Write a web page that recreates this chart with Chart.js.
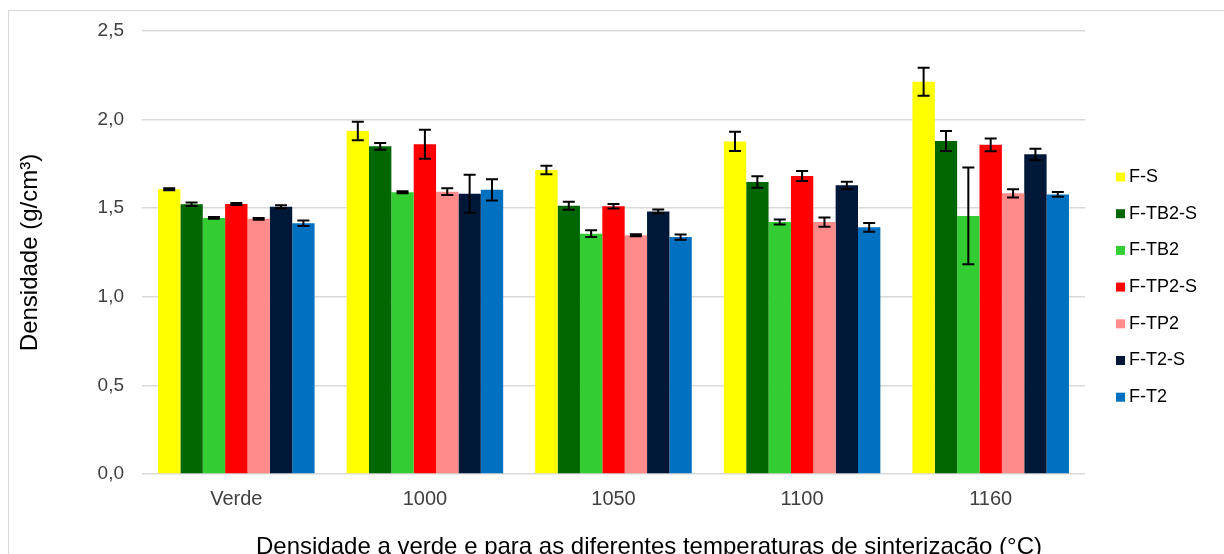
<!DOCTYPE html>
<html>
<head>
<meta charset="utf-8">
<script src="https://cdn.jsdelivr.net/npm/chart.js@4.4.0/dist/chart.umd.min.js"></script>
<style>
    body { margin: 0; background: #fff; }
    #wrap { position: relative; width: 1224px; height: 554px; overflow: hidden; }
    #frame { position: absolute; left: 8px; top: 10px; width: 1240px; height: 600px; border: 1px solid #d9d9d9; }
    canvas { position: absolute; left: 0; top: 0; }
</style>
</head>
<body>
<div id="wrap">
    <div id="frame"></div>
    <canvas id="chart" width="1224" height="554"></canvas>
</div>
<script>
// Categories and series (g/cm3)
const categories = ['Verde', '1000', '1050', '1100', '1160'];
const seriesNames = ['F-S', 'F-TB2-S', 'F-TB2', 'F-TP2-S', 'F-TP2', 'F-T2-S', 'F-T2'];
const seriesColors = ['#ffff00', '#006600', '#33cc33', '#ff0000', '#ff8b8b', '#001838', '#0070c0'];

const fS    = [1.607, 1.936, 1.716, 1.877, 2.214];
const fTB2S = [1.522, 1.849, 1.514, 1.648, 1.879];
const fTB2  = [1.445, 1.590, 1.356, 1.422, 1.456];
const fTP2S = [1.524, 1.861, 1.511, 1.682, 1.858];
const fTP2  = [1.440, 1.593, 1.347, 1.422, 1.584];
const fT2S  = [1.508, 1.582, 1.482, 1.629, 1.804];
const fT2   = [1.415, 1.604, 1.337, 1.392, 1.578];

// standard deviations (error bars)
const errFS    = [0.006, 0.052, 0.024, 0.054, 0.079];
const errFTB2S = [0.010, 0.019, 0.023, 0.033, 0.056];
const errFTB2  = [0.005, 0.005, 0.019, 0.014, 0.273];
const errFTP2S = [0.006, 0.082, 0.013, 0.028, 0.036];
const errFTP2  = [0.005, 0.019, 0.006, 0.026, 0.023];
const errFT2S  = [0.008, 0.107, 0.010, 0.020, 0.032];
const errFT2   = [0.016, 0.060, 0.015, 0.025, 0.014];

const yTicks = [0, 0.5, 1.0, 1.5, 2.0, 2.5];

const xTitle = 'Densidade a verde e para as diferentes temperaturas de sinterização (°C)';
const yTitle = 'Densidade (g/cm³)';

const seriesValues = [fS, fTB2S, fTB2, fTP2S, fTP2, fT2S, fT2];
const seriesErrors = [errFS, errFTB2S, errFTB2, errFTP2S, errFTP2, errFT2S, errFT2];

const FONT = "'Liberation Sans', Arial, sans-serif";
const TEXT = '#404040';

// error bars drawn over the bars
const errorBars = {
    id: 'errorBars',
    afterDatasetsDraw(chart) {
        const ctx = chart.ctx;
        const y = chart.scales.y;
        ctx.save();
        ctx.strokeStyle = '#000';
        ctx.lineWidth = 2;
        chart.data.datasets.forEach((ds, i) => {
            const meta = chart.getDatasetMeta(i);
            meta.data.forEach((bar, j) => {
                const v = ds.data[j], e = ds.errors[j];
                const top = y.getPixelForValue(v + e);
                const bot = y.getPixelForValue(v - e);
                ctx.beginPath();
                ctx.moveTo(bar.x, top); ctx.lineTo(bar.x, bot);
                ctx.moveTo(bar.x - 6, top); ctx.lineTo(bar.x + 6, top);
                ctx.moveTo(bar.x - 6, bot); ctx.lineTo(bar.x + 6, bot);
                ctx.stroke();
            });
        });
        ctx.restore();
    }
};

// legend on the right and centred x title
const extras = {
    id: 'extras',
    afterDraw(chart) {
        const ctx = chart.ctx;
        ctx.save();
        ctx.font = '18px ' + FONT;
        ctx.textBaseline = 'middle';
        ctx.textAlign = 'left';
        chart.data.datasets.forEach((ds, i) => {
            const cy = 177 + i * 36.7;
            ctx.fillStyle = ds.backgroundColor;
            ctx.fillRect(1116, cy - 4.5, 9, 9);
            ctx.fillStyle = '#000';
            ctx.fillText(ds.label, 1129, cy);
        });
        ctx.font = '24px ' + FONT;
        ctx.textAlign = 'center';
        ctx.textBaseline = 'alphabetic';
        ctx.fillStyle = '#000';
        ctx.fillText(xTitle, 649, 554);
        ctx.restore();
    }
};

new Chart(document.getElementById('chart'), {
    type: 'bar',
    data: {
        labels: categories,
        datasets: seriesNames.map((name, i) => ({
            label: name,
            data: seriesValues[i],
            errors: seriesErrors[i],
            backgroundColor: seriesColors[i],
            borderWidth: 0,
            barPercentage: 1,
            categoryPercentage: 0.83
        }))
    },
    options: {
        responsive: false,
        animation: false,
        devicePixelRatio: 1,
        layout: { padding: { top: 31, right: 139, bottom: 0, left: 0 } },
        plugins: {
            legend: { display: false },
            tooltip: { enabled: false }
        },
        scales: {
            x: {
                grid: { display: false, drawTicks: false },
                border: { display: false },
                ticks: { color: TEXT, font: { family: FONT, size: 20 }, padding: 13 },
                afterFit: s => { s.height = 80; }
            },
            y: {
                min: 0,
                max: 2.5,
                afterBuildTicks: s => { s.ticks = yTicks.map(v => ({ value: v })); },
                grid: { color: '#d9d9d9', lineWidth: 1.5, drawTicks: false },
                border: { display: false },
                ticks: {
                    color: TEXT,
                    font: { family: FONT, size: 19 },
                    padding: 18,
                    callback: v => v.toFixed(1).replace('.', ',')
                },
                title: {
                    display: true,
                    text: yTitle,
                    color: '#000',
                    font: { family: FONT, size: 24 },
                    padding: { top: 16, bottom: 0 }
                },
                afterFit: s => { s.width = 142; }
            }
        }
    },
    plugins: [errorBars, extras]
});
</script>
</body>
</html>
